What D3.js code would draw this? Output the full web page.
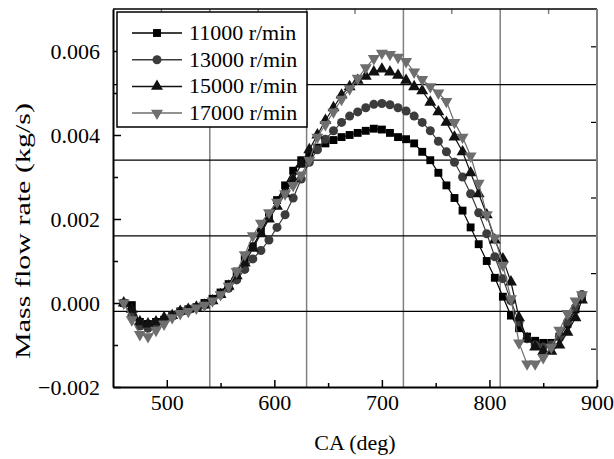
<!DOCTYPE html>
<html lang="en">
<head>
  <meta charset="UTF-8">
  <title>Mass flow rate vs CA</title>
  <style>
    body { margin: 0; padding: 0; background: #ffffff; }
    svg { display: block; font-family: 'Liberation Serif', 'Times New Roman', serif; }
    .tick text { font-family: 'Liberation Serif', 'Times New Roman', serif; font-size: 22px; fill: #000; }
    .axis path.domain { stroke: #000; stroke-width: 2; }
  </style>
</head>
<body>
<svg width="614" height="459"></svg>

<script src="https://d3js.org/d3.v7.min.js"></script>
<script>
  const width = 614, height = 459;
  const margin = { top: 9, right: 17, bottom: 72, left: 113 };

  // crank angle (deg)
  const ca = [460, 467.5, 475, 482.5, 490, 497.5, 505, 512.5, 520, 527.5,
              535, 542.5, 550, 557.5, 565, 572.5, 580, 587.5, 595, 602.5,
              610, 617.5, 625, 632.5, 640, 647.5, 655, 662.5, 670, 677.5,
              685, 692.5, 700, 707.5, 715, 722.5, 730, 737.5, 745, 752.5,
              760, 767.5, 775, 782.5, 790, 797.5, 805, 812.5, 820, 827.5,
              835, 842.5, 850, 857.5, 865, 872.5, 880, 886];

  // mass flow rate (kg/s)
  const flow11000 = [0.0, -0.00005, -0.00045, -0.0005, -0.00045, -0.0004, -0.0003, -0.0002, -0.00015, -0.0001,
                     0.0, 0.0001, 0.00025, 0.00045, 0.00075, 0.00105, 0.00135, 0.0017, 0.00205, 0.00245,
                     0.0028, 0.00315, 0.0034, 0.00355, 0.0037, 0.0038, 0.00388, 0.00395, 0.004, 0.00405,
                     0.0041, 0.00415, 0.00413, 0.00405, 0.00395, 0.0039, 0.0038, 0.0036, 0.0034, 0.0031,
                     0.0028, 0.0025, 0.0022, 0.0018, 0.0014, 0.001, 0.0006, 0.00015, -0.0003, -0.0006,
                     -0.0008, -0.0009, -0.00095, -0.00095, -0.0008, -0.0005, -0.00015, 0.0001];
  const flow13000 = [0.0, -0.0003, -0.00055, -0.0006, -0.0005, -0.0004, -0.0003, -0.0002, -0.00015, -0.0001,
                     -0.00005, 0.00005, 0.0002, 0.00035, 0.00055, 0.0008, 0.00105, 0.00125, 0.0015, 0.0018,
                     0.0021, 0.0025, 0.00295, 0.00335, 0.00365, 0.0039, 0.0041, 0.0043, 0.00445, 0.00455,
                     0.00465, 0.00473, 0.00475, 0.00472, 0.00465, 0.00457, 0.00445, 0.0043, 0.0041, 0.00385,
                     0.0036, 0.00335, 0.003, 0.0026, 0.00215, 0.00165, 0.0011, 0.00058, 0.00005, -0.00045,
                     -0.00085, -0.001, -0.00105, -0.001, -0.0008, -0.00045, -0.0001, 0.0002];
  const flow15000 = [0.0, -0.00015, -0.00045, -0.0005, -0.00045, -0.00035, -0.0003, -0.0002, -0.00015, -0.0001,
                     -0.00005, 0.00005, 0.0002, 0.0004, 0.00065, 0.00095, 0.0013, 0.00165, 0.002, 0.0023,
                     0.0026, 0.00295, 0.0033, 0.00365, 0.004, 0.00435, 0.00465, 0.00495, 0.00515, 0.0053,
                     0.0054, 0.0055, 0.00557, 0.0055, 0.00542, 0.0053, 0.00515, 0.00505, 0.00478, 0.00455,
                     0.0043, 0.00395, 0.0036, 0.0031, 0.0026, 0.0021, 0.0015, 0.00105, 0.0005, -0.00035,
                     -0.00085, -0.00105, -0.00115, -0.00115, -0.001, -0.0007, -0.00035, 0.00007];
  const flow17000 = [0.0, -0.0004, -0.00075, -0.0008, -0.00065, -0.0005, -0.00035, -0.00025, -0.0002, -0.00012,
                     -0.00005, 0.00005, 0.0002, 0.0004, 0.00075, 0.00115, 0.0016, 0.0019, 0.00215, 0.0024,
                     0.0026, 0.0028, 0.00305, 0.0034, 0.00395, 0.00425, 0.00455, 0.00485, 0.0051, 0.00535,
                     0.0056, 0.00582, 0.00595, 0.00592, 0.00585, 0.00575, 0.0055, 0.00532, 0.00515, 0.005,
                     0.0048, 0.0043, 0.00395, 0.0035, 0.00285, 0.0021, 0.00155, 0.0009, 0.0001, -0.00095,
                     -0.00145, -0.00145, -0.0013, -0.00105, -0.00065, -0.00025, 0.00005, 0.0002];

  const seriesNames = ["11000 r/min", "13000 r/min", "15000 r/min", "17000 r/min"];
  const seriesColors = ["#000000", "#3c3c3c", "#111111", "#6e6e6e"];
  const seriesSymbols = [d3.symbolSquare, d3.symbolCircle, d3.symbolTriangle, d3.symbolTriangle];
  const seriesFlip = [false, false, false, true];

  const xTicks = [500, 600, 700, 800, 900];
  const xMinor = [550, 650, 750, 850];
  const yTicks = [-0.002, 0.000, 0.002, 0.004, 0.006];
  const yMinor = [-0.001, 0.001, 0.003, 0.005];
  const topGrid = [540, 630, 720, 810];
  const topMinor = [495, 585, 675, 765, 855];
  const rightGrid = [1, 2, 3, 4];
  const rightMinor = [0.5, 1.5, 2.5, 3.5, 4.5];

  const series = [flow11000, flow13000, flow15000, flow17000];

  const svg = d3.select("svg");
  const iw = width - margin.left - margin.right;
  const ih = height - margin.top - margin.bottom;

  const x = d3.scaleLinear().domain([450, 900]).range([margin.left, margin.left + iw]);
  const y = d3.scaleLinear().domain([-0.002, 0.007]).range([margin.top + ih, margin.top]);
  const y2 = d3.scaleLinear().domain([0, 5]).range([margin.top + ih, margin.top]);

  // grid from the secondary axes
  svg.append("g").selectAll("line").data(topGrid).join("line")
    .attr("x1", d => x(d)).attr("x2", d => x(d))
    .attr("y1", margin.top).attr("y2", margin.top + ih)
    .attr("stroke", "#808080").attr("stroke-width", 1.5);
  svg.append("g").selectAll("line").data(rightGrid).join("line")
    .attr("x1", margin.left).attr("x2", margin.left + iw)
    .attr("y1", d => y2(d)).attr("y2", d => y2(d))
    .attr("stroke", "#000").attr("stroke-width", 1.2);

  // top axis minor ticks
  svg.append("g").selectAll("line").data(topMinor).join("line")
    .attr("x1", d => x(d)).attr("x2", d => x(d))
    .attr("y1", margin.top).attr("y2", margin.top + 5)
    .attr("stroke", "#808080").attr("stroke-width", 1.5);
  // right axis minor ticks
  svg.append("g").selectAll("line").data(rightMinor).join("line")
    .attr("x1", margin.left + iw - 6).attr("x2", margin.left + iw)
    .attr("y1", d => y2(d)).attr("y2", d => y2(d))
    .attr("stroke", "#000").attr("stroke-width", 1.2);

  // frame: top black, right grey
  svg.append("line")
    .attr("x1", margin.left).attr("x2", margin.left + iw)
    .attr("y1", margin.top).attr("y2", margin.top)
    .attr("stroke", "#000").attr("stroke-width", 1.5);
  svg.append("line")
    .attr("x1", margin.left + iw).attr("x2", margin.left + iw)
    .attr("y1", margin.top).attr("y2", margin.top + ih)
    .attr("stroke", "#808080").attr("stroke-width", 2);

  // bottom axis
  const xAxis = svg.append("g").attr("class", "axis")
    .attr("transform", `translate(0,${margin.top + ih})`)
    .call(d3.axisBottom(x).tickValues(xTicks).tickSize(-7).tickSizeOuter(0).tickPadding(7));
  xAxis.selectAll(".tick line").attr("stroke-width", 1.5);
  svg.append("g")
    .attr("transform", `translate(0,${margin.top + ih})`)
    .call(d3.axisBottom(x).tickValues(xMinor).tickSize(-4).tickFormat(""))
    .call(g => g.select(".domain").remove())
    .selectAll(".tick line").attr("stroke-width", 1.5);

  // left axis
  const yAxis = svg.append("g").attr("class", "axis")
    .attr("transform", `translate(${margin.left},0)`)
    .call(d3.axisLeft(y).tickValues(yTicks).tickFormat(d3.format(".3f")).tickSize(-8).tickSizeOuter(0).tickPadding(13));
  yAxis.selectAll(".tick line").attr("stroke-width", 1.5);
  svg.append("g")
    .attr("transform", `translate(${margin.left},0)`)
    .call(d3.axisLeft(y).tickValues(yMinor).tickSize(-5).tickFormat(""))
    .call(g => g.select(".domain").remove())
    .selectAll(".tick line").attr("stroke-width", 1.5);

  // axis titles
  svg.append("text")
    .attr("x", margin.left + iw / 2).attr("y", 450)
    .attr("text-anchor", "middle").attr("font-size", 22)
    .text("CA (deg)");
  svg.append("text")
    .attr("transform", `translate(30,231) rotate(-90)`)
    .attr("text-anchor", "middle").attr("font-size", 22)
    .attr("textLength", 256)
    .attr("lengthAdjust", "spacingAndGlyphs")
    .text("Mass flow rate (kg/s)");

  // series
  const line = d3.line().x((d, i) => x(ca[i])).y(d => y(d));
  series.forEach((vals, k) => {
    const g = svg.append("g");
    g.append("path").datum(vals)
      .attr("d", line)
      .attr("fill", "none")
      .attr("stroke", seriesColors[k])
      .attr("stroke-width", 1.2);
    const sym = d3.symbol().type(seriesSymbols[k]).size(k === 1 ? 64 : 62);
    g.selectAll("path.m").data(vals).join("path")
      .attr("class", "m")
      .attr("d", sym)
      .attr("fill", seriesColors[k])
      .attr("transform", (d, i) => `translate(${x(ca[i])},${y(d)})${seriesFlip[k] ? " rotate(180)" : ""}`);
  });

  // legend
  const legend = svg.append("g");
  legend.append("rect")
    .attr("x", 117).attr("y", 12).attr("width", 190).attr("height", 115)
    .attr("fill", "#fff").attr("stroke", "#000").attr("stroke-width", 1.5);
  seriesNames.forEach((name, k) => {
    const ly = 33 + k * 26.7;
    legend.append("line")
      .attr("x1", 132).attr("x2", 182).attr("y1", ly).attr("y2", ly)
      .attr("stroke", seriesColors[k]).attr("stroke-width", 1.5);
    legend.append("path")
      .attr("d", d3.symbol().type(seriesSymbols[k]).size(k === 1 ? 64 : 62))
      .attr("fill", seriesColors[k])
      .attr("transform", `translate(157,${ly})${seriesFlip[k] ? " rotate(180)" : ""}`);
    legend.append("text")
      .attr("x", 189).attr("y", ly + 7)
      .attr("font-size", 22)
      .text(name);
  });
</script>
</body>
</html>
